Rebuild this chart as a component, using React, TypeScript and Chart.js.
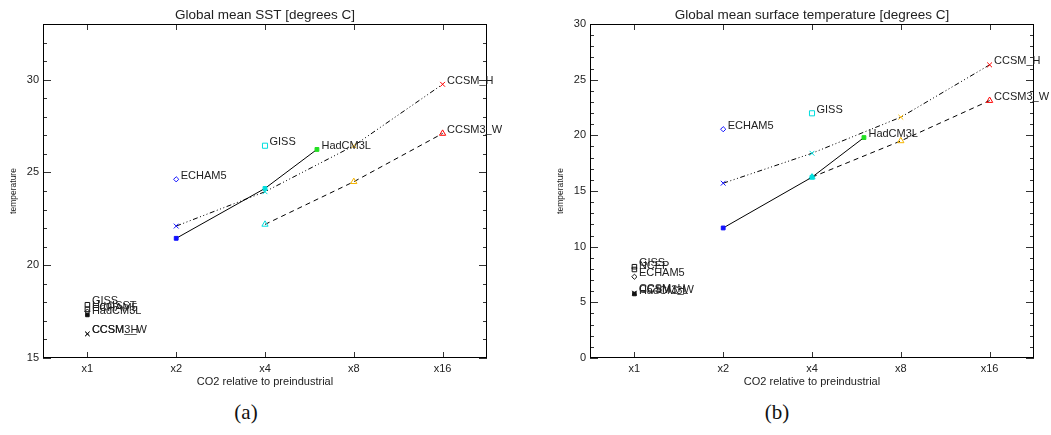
import React, { useEffect, useRef } from "react";
import { Chart, registerables } from "chart.js";

Chart.register(...registerables);

// ---------- data ----------
const xTickLabels = ["x1", "x2", "x4", "x8", "x16"];
const levelColor: Record<number, string> = {
  1: "#000000",
  2: "#1010ff",
  4: "#00dede",
  6: "#22e022",
  8: "#f5b400",
  16: "#ff0000",
};

// (a) Global mean SST
const sstTitle = "Global mean SST [degrees C]";
const sstYMin = 15;
const sstYMax = 33;
const sstYTicks = [15, 20, 25, 30];
const sstHadCM3LCo2 = [2, 4, 6];
const sstHadCM3L = [21.45, 24.14, 26.24];
const sstCcsmHCo2 = [2, 4, 8, 16];
const sstCcsmH = [22.11, 23.96, 26.44, 29.75];
const sstCcsm3WCo2 = [4, 8, 16];
const sstCcsm3W = [22.2, 24.5, 27.1];
const sstEcham5 = 24.63; // x2
const sstGiss = 26.44; // x4
const sstBaseNames = ["GISS", "HadISST", "ECHAM5", "HadCM3L", "CCSM_H", "CCSM3_W"];
const sstBaseValues = [17.87, 17.62, 17.5, 17.32, 16.3, 16.3];

// (b) Global mean surface temperature
const satTitle = "Global mean surface temperature [degrees C]";
const satYMin = 0;
const satYMax = 30;
const satYTicks = [0, 5, 10, 15, 20, 25, 30];
const satHadCM3LCo2 = [2, 4, 6];
const satHadCM3L = [11.68, 16.24, 19.8];
const satCcsmHCo2 = [2, 4, 8, 16];
const satCcsmH = [15.7, 18.39, 21.63, 26.33];
const satCcsm3WCo2 = [4, 8, 16];
const satCcsm3W = [16.24, 19.5, 23.12];
const satEcham5 = 20.55; // x2
const satGiss = 21.98; // x4
const satBaseNames = ["GISS", "NCEP", "ECHAM5", "HadCM3L", "CCSM_H", "CCSM3_W"];
const satBaseValues = [8.2, 7.95, 7.3, 5.75, 5.85, 5.8];

const baseStyles = ["rect", "rect", "rectRot", "rect", "crossRot", "crossRot"];
const baseFilled = [false, false, false, true, false, false];

const FONT = '"Liberation Sans", Arial, Helvetica, sans-serif';
const TEXT = "#222222";

// ---------- helpers ----------
const lx = (co2: number) => Math.log2(co2);

function radiusFor(style: string, filled: boolean) {
  if (style === "rectRot") return 2.6;
  if (style === "crossRot") return 3.4;
  if (filled) return 2.7;
  return 3.6;
}

function lineDataset(co2: number[], vals: number[], style: string, filled: boolean, dash: number[], lastLabel: string) {
  return {
    data: co2.map((c, i) => ({ x: lx(c), y: vals[i] })),
    showLine: true,
    borderColor: "#000",
    borderWidth: 1,
    borderDash: dash,
    pointStyle: co2.map(() => style),
    pointRadius: radiusFor(style, filled),
    pointBorderWidth: 1,
    pointBorderColor: co2.map((c) => levelColor[c]),
    pointBackgroundColor: co2.map((c) => (filled ? levelColor[c] : "rgba(0,0,0,0)")),
    pointLabels: co2.map((_, i) => (i === co2.length - 1 ? lastLabel : "")),
  };
}

function singleDataset(co2: number, val: number, style: string, label: string) {
  return {
    data: [{ x: lx(co2), y: val }],
    showLine: false,
    pointStyle: [style],
    pointRadius: radiusFor(style, false),
    pointBorderWidth: 1,
    pointBorderColor: [levelColor[co2]],
    pointBackgroundColor: ["rgba(0,0,0,0)"],
    pointLabels: [label],
  };
}

function baseDataset(names: string[], vals: number[]) {
  return {
    data: vals.map((v) => ({ x: lx(1), y: v })),
    showLine: false,
    pointStyle: baseStyles,
    pointRadius: baseStyles.map((s, i) => (s === "rectRot" ? 2.6 : s === "crossRot" ? 3.0 : baseFilled[i] ? 2.5 : 3.2)),
    pointBorderWidth: 1,
    pointBorderColor: vals.map(() => "#111"),
    pointBackgroundColor: baseFilled.map((f) => (f ? "#111" : "rgba(0,0,0,0)")),
    pointLabels: names,
  };
}

const framePlugin = {
  id: "idlFrame",
  afterDatasetsDraw(chart: any) {
    const { ctx, chartArea } = chart;
    const { left, right, top, bottom } = chartArea;
    const x = chart.scales.x;
    const y = chart.scales.y;
    ctx.save();
    ctx.lineWidth = 1;
    ctx.strokeStyle = "#333";
    ctx.beginPath();
    for (let v = Math.ceil(y.min); v <= y.max; v += 1) {
      const py = Math.round(y.getPixelForValue(v)) + 0.5;
      const len = v % 5 === 0 ? 8 : 4;
      ctx.moveTo(left, py);
      ctx.lineTo(left + len, py);
      ctx.moveTo(right, py);
      ctx.lineTo(right - len, py);
    }
    for (let i = 0; i < xTickLabels.length; i++) {
      const px = Math.round(x.getPixelForValue(i)) + 0.5;
      ctx.moveTo(px, bottom);
      ctx.lineTo(px, bottom - 6);
      ctx.moveTo(px, top);
      ctx.lineTo(px, top + 6);
    }
    ctx.stroke();
    ctx.strokeStyle = "#000";
    ctx.strokeRect(Math.round(left) + 0.5, Math.round(top) + 0.5, Math.round(right - left) - 1, Math.round(bottom - top) - 1);

    ctx.font = `11px ${FONT}`;
    ctx.fillStyle = TEXT;
    ctx.textAlign = "left";
    ctx.textBaseline = "middle";
    chart.data.datasets.forEach((ds: any, di: number) => {
      const meta = chart.getDatasetMeta(di);
      (ds.pointLabels || []).forEach((t: string, i: number) => {
        if (!t) return;
        const el = meta.data[i];
        ctx.fillText(t, el.x + 4.5, el.y - 3.5);
      });
    });
    ctx.restore();
  },
};

function makeConfig(title: string, yMin: number, yMax: number, yTicks: number[], datasets: any[], leftW: number, rightPad: number) {
  return {
    type: "scatter",
    data: { datasets },
    plugins: [framePlugin],
    options: {
      animation: false,
      responsive: false,
      events: [],
      layout: { padding: { left: 0, right: rightPad, top: 0, bottom: 0 } },
      plugins: {
        legend: { display: false },
        tooltip: { enabled: false },
        title: {
          display: true,
          text: title,
          fullSize: false,
          color: TEXT,
          font: { family: FONT, size: 13.5, weight: "normal" },
          padding: { top: 7, bottom: 0.8 },
        },
      },
      scales: {
        x: {
          type: "linear",
          min: -0.5,
          max: 4.5,
          afterBuildTicks: (s: any) => {
            s.ticks = xTickLabels.map((_, i) => ({ value: i }));
          },
          afterFit: (s: any) => {
            s.height = 42;
          },
          grid: { display: false, drawTicks: false },
          border: { display: false },
          ticks: {
            autoSkip: false,
            maxRotation: 0,
            padding: 4.4,
            color: TEXT,
            font: { family: FONT, size: 11 },
            callback: (v: number) => xTickLabels[Math.round(v)],
          },
          title: {
            display: true,
            text: "CO2 relative to preindustrial",
            color: TEXT,
            font: { family: FONT, size: 11 },
            padding: { top: 0, bottom: 11.4 },
          },
        },
        y: {
          type: "linear",
          min: yMin,
          max: yMax,
          afterBuildTicks: (s: any) => {
            s.ticks = yTicks.map((v) => ({ value: v }));
          },
          afterFit: (s: any) => {
            s.width = leftW;
          },
          grid: { display: false, drawTicks: false },
          border: { display: false },
          ticks: {
            padding: 4,
            color: TEXT,
            font: { family: FONT, size: 11 },
          },
          title: {
            display: true,
            text: "temperature",
            color: TEXT,
            font: { family: FONT, size: 8.5 },
            padding: { top: 9, bottom: 0 },
          },
        },
      },
    },
  };
}

const DASH_DOT3 = [5, 2.5, 1, 2.5, 1, 2.5, 1, 2.5];
const DASHED = [5, 4];

function sstDatasets() {
  return [
    lineDataset(sstHadCM3LCo2, sstHadCM3L, "rect", true, [], "HadCM3L"),
    lineDataset(sstCcsmHCo2, sstCcsmH, "crossRot", false, DASH_DOT3, "CCSM_H"),
    lineDataset(sstCcsm3WCo2, sstCcsm3W, "triangle", false, DASHED, "CCSM3_W"),
    singleDataset(2, sstEcham5, "rectRot", "ECHAM5"),
    singleDataset(4, sstGiss, "rect", "GISS"),
    baseDataset(sstBaseNames, sstBaseValues),
  ];
}

function satDatasets() {
  return [
    lineDataset(satHadCM3LCo2, satHadCM3L, "rect", true, [], "HadCM3L"),
    lineDataset(satCcsmHCo2, satCcsmH, "crossRot", false, DASH_DOT3, "CCSM_H"),
    lineDataset(satCcsm3WCo2, satCcsm3W, "triangle", false, DASHED, "CCSM3_W"),
    singleDataset(2, satEcham5, "rectRot", "ECHAM5"),
    singleDataset(4, satGiss, "rect", "GISS"),
    baseDataset(satBaseNames, satBaseValues),
  ];
}

function ChartCanvas(props: { config: () => any; left: number; width: number; height: number }) {
  const ref = useRef<HTMLCanvasElement | null>(null);
  useEffect(() => {
    if (!ref.current) return;
    const chart = new Chart(ref.current, props.config());
    return () => chart.destroy();
  }, []);
  return (
    <canvas
      ref={ref}
      width={props.width}
      height={props.height}
      style={{ position: "absolute", left: props.left, top: 0, width: props.width, height: props.height }}
    />
  );
}

const captionStyle = (cx: number): React.CSSProperties => ({
  position: "absolute",
  left: cx - 50,
  width: 100,
  top: 400,
  lineHeight: "24px",
  textAlign: "center",
  fontFamily: '"Liberation Serif", "Times New Roman", serif',
  fontSize: 21,
  color: "#111",
});

export default function App() {
  return (
    <div style={{ position: "absolute", left: 0, top: 0, width: 1051, height: 435, background: "#fff" }}>
      <ChartCanvas
        left={0}
        width={525}
        height={400}
        config={() => makeConfig(sstTitle, sstYMin, sstYMax, sstYTicks, sstDatasets(), 43, 38)}
      />
      <ChartCanvas
        left={547}
        width={504}
        height={400}
        config={() => makeConfig(satTitle, satYMin, satYMax, satYTicks, satDatasets(), 43, 17)}
      />
      <div style={captionStyle(246)}>(a)</div>
      <div style={captionStyle(777)}>(b)</div>
    </div>
  );
}
